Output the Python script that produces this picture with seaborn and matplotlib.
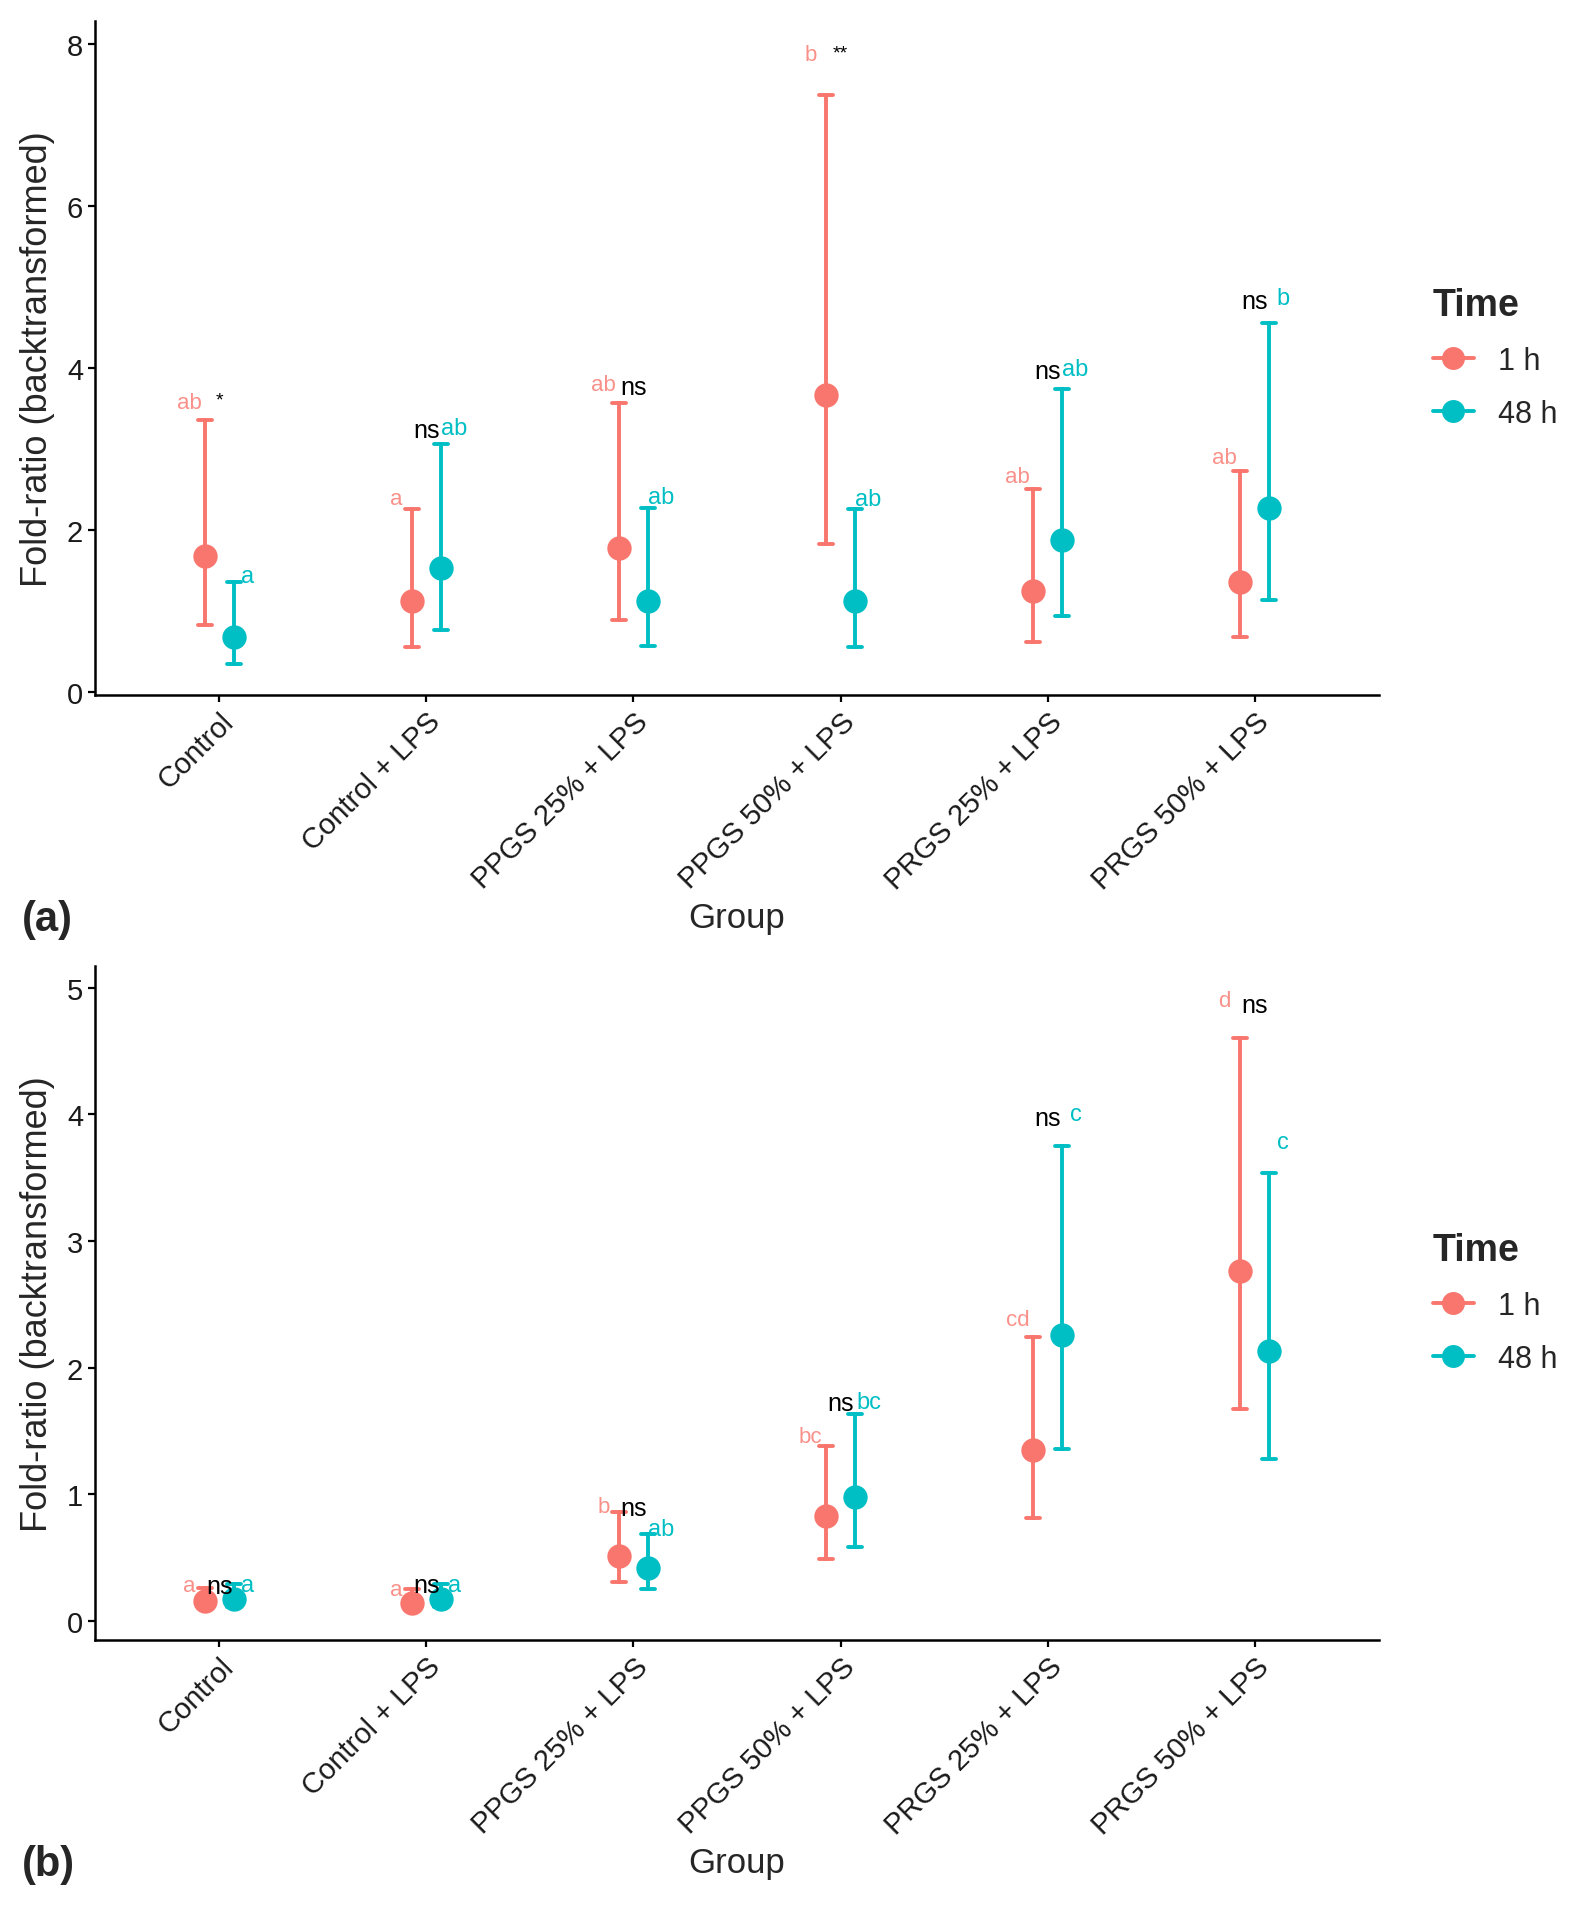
import matplotlib
matplotlib.use('Agg')
import matplotlib.pyplot as plt
import pandas as pd
import seaborn as sns
from matplotlib.lines import Line2D

groups = ['Control', 'Control + LPS', 'PPGS 25% + LPS', 'PPGS 50% + LPS',
          'PRGS 25% + LPS', 'PRGS 50% + LPS']
times = ['1 h', '48 h']

# Panel (a): back-transformed means and interval limits
a_mean_1h = [1.67, 1.12, 1.77, 3.66, 1.24, 1.36]
a_lo_1h = [0.83, 0.55, 0.88, 1.82, 0.62, 0.68]
a_hi_1h = [3.35, 2.25, 3.56, 7.37, 2.50, 2.72]
a_mean_48h = [0.68, 1.53, 1.12, 1.12, 1.87, 2.27]
a_lo_48h = [0.34, 0.76, 0.56, 0.55, 0.93, 1.13]
a_hi_48h = [1.36, 3.06, 2.27, 2.25, 3.74, 4.55]

# Panel (a): letters / significance and their heights
a_let_1h = ['ab', 'a', 'ab', 'b', 'ab', 'ab']
a_let_1h_y = [3.57, 2.38, 3.79, 7.87, 2.66, 2.89]
a_sig = ['*', 'ns', 'ns', '**', 'ns', 'ns']
a_sig_y = [3.60, 3.23, 3.76, 7.88, 3.96, 4.82]
a_let_48h = ['a', 'ab', 'ab', 'ab', 'ab', 'b']
a_let_48h_y = [1.43, 3.25, 2.40, 2.38, 3.99, 4.86]

# Panel (b)
b_mean_1h = [0.16, 0.145, 0.51, 0.83, 1.35, 2.76]
b_lo_1h = [0.10, 0.09, 0.31, 0.49, 0.81, 1.67]
b_hi_1h = [0.26, 0.25, 0.86, 1.38, 2.24, 4.60]
b_mean_48h = [0.17, 0.17, 0.42, 0.98, 2.26, 2.13]
b_lo_48h = [0.11, 0.11, 0.25, 0.585, 1.36, 1.28]
b_hi_48h = [0.29, 0.29, 0.69, 1.63, 3.75, 3.54]

b_let_1h = ['a', 'a', 'b', 'bc', 'cd', 'd']
b_let_1h_y = [0.28, 0.25, 0.90, 1.46, 2.38, 4.90]
b_sig = ['ns', 'ns', 'ns', 'ns', 'ns', 'ns']
b_sig_y = [0.28, 0.285, 0.89, 1.72, 3.97, 4.86]
b_let_48h = ['a', 'a', 'ab', 'bc', 'c', 'c']
b_let_48h_y = [0.285, 0.285, 0.73, 1.73, 4.00, 3.78]

palette = {'1 h': '#F8766D', '48 h': '#00BFC4'}


def long_table(m1, l1, h1, m48, l48, h48):
    # three rows per cell: lower, mean, upper -> median gives the mean, min/max the interval
    rows = []
    for t, ms, ls, hs in [('1 h', m1, l1, h1), ('48 h', m48, l48, h48)]:
        for g, m, lo, hi in zip(groups, ms, ls, hs):
            for v in (lo, m, hi):
                rows.append({'Group': g, 'Time': t, 'value': v})
    return pd.DataFrame(rows)


sns.set_theme(style='ticks')
plt.rcParams['font.family'] = ['Liberation Sans', 'DejaVu Sans']

fig = plt.figure(figsize=(15.72, 19.08), dpi=100)

W, H = 1572, 1908
ax_left, ax_right = 95, 1379
panels = [
    dict(top=22, bottom=696, ylim=(-0.04, 8.28), yticks=[0, 2, 4, 6, 8], tag='(a)', tag_y=920,
         data=(a_mean_1h, a_lo_1h, a_hi_1h, a_mean_48h, a_lo_48h, a_hi_48h),
         labels=(a_let_1h, a_let_1h_y, a_sig, a_sig_y, a_let_48h, a_let_48h_y)),
    dict(top=967, bottom=1641, ylim=(-0.15, 5.17), yticks=[0, 1, 2, 3, 4, 5], tag='(b)', tag_y=1865,
         data=(b_mean_1h, b_lo_1h, b_hi_1h, b_mean_48h, b_lo_48h, b_hi_48h),
         labels=(b_let_1h, b_let_1h_y, b_sig, b_sig_y, b_let_48h, b_let_48h_y)),
]

for p in panels:
    ax = fig.add_axes([ax_left / W, 1 - p['bottom'] / H,
                       (ax_right - ax_left) / W, (p['bottom'] - p['top']) / H])
    df = long_table(*p['data'])
    sns.pointplot(
        data=df, x='Group', y='value', hue='Time',
        order=groups, hue_order=times, palette=palette,
        estimator='median', errorbar=lambda v: (v.min(), v.max()),
        dodge=0.14, linestyle='none', markers='o', markersize=15.5,
        capsize=0.07, err_kws={'linewidth': 2.8},
        legend=False, ax=ax,
    )

    let1, let1_y, sig, sig_y, let48, let48_y = p['labels']
    for i in range(len(groups)):
        ax.text(i - 0.145, let1_y[i], let1[i], color='#F8766D', alpha=0.8,
                fontsize=16, ha='center', va='center')
        ax.text(i, sig_y[i], sig[i], color='black',
                fontsize=18 if sig[i] == 'ns' else 14, ha='center', va='center')
        ax.text(i + 0.135, let48_y[i], let48[i], color='#00BFC4',
                fontsize=17, ha='center', va='center')

    ax.set_xlim(-0.6, 5.6)
    ax.set_ylim(*p['ylim'])
    ax.set_yticks(p['yticks'])
    sns.despine(ax=ax)
    for s in ['left', 'bottom']:
        ax.spines[s].set_linewidth(1.8)
        ax.spines[s].set_color('black')
    ax.tick_params(axis='both', length=5, width=1.6, color='black',
                   labelsize=21, labelcolor='#1a1a1a')
    ax.set_xticks(range(len(groups)))
    ax.set_xticklabels(groups, rotation=45, ha='right', rotation_mode='anchor')
    ax.set_xlabel('Group', fontsize=25)
    ax.set_ylabel('Fold-ratio (backtransformed)', fontsize=26)
    ax.xaxis.set_label_coords(0.5, -0.305)
    ax.yaxis.set_label_coords(-0.031, 0.5)

    handles = [Line2D([0], [0], color=palette[t], marker='o', markersize=15.5,
                      linewidth=2.8) for t in times]
    leg = ax.legend(handles, times, title='Time', loc='center left',
                    bbox_to_anchor=(1.03, 0.5), frameon=False, fontsize=22,
                    title_fontproperties={'weight': 'bold', 'size': 27},
                    alignment='left', handlelength=1.35, handletextpad=0.8,
                    labelspacing=0.75, borderpad=0)

    fig.text(22 / W, 1 - p['tag_y'] / H, p['tag'], fontsize=30, fontweight='bold',
             ha='left', va='center')

plt.savefig('out.png', dpi=100)
